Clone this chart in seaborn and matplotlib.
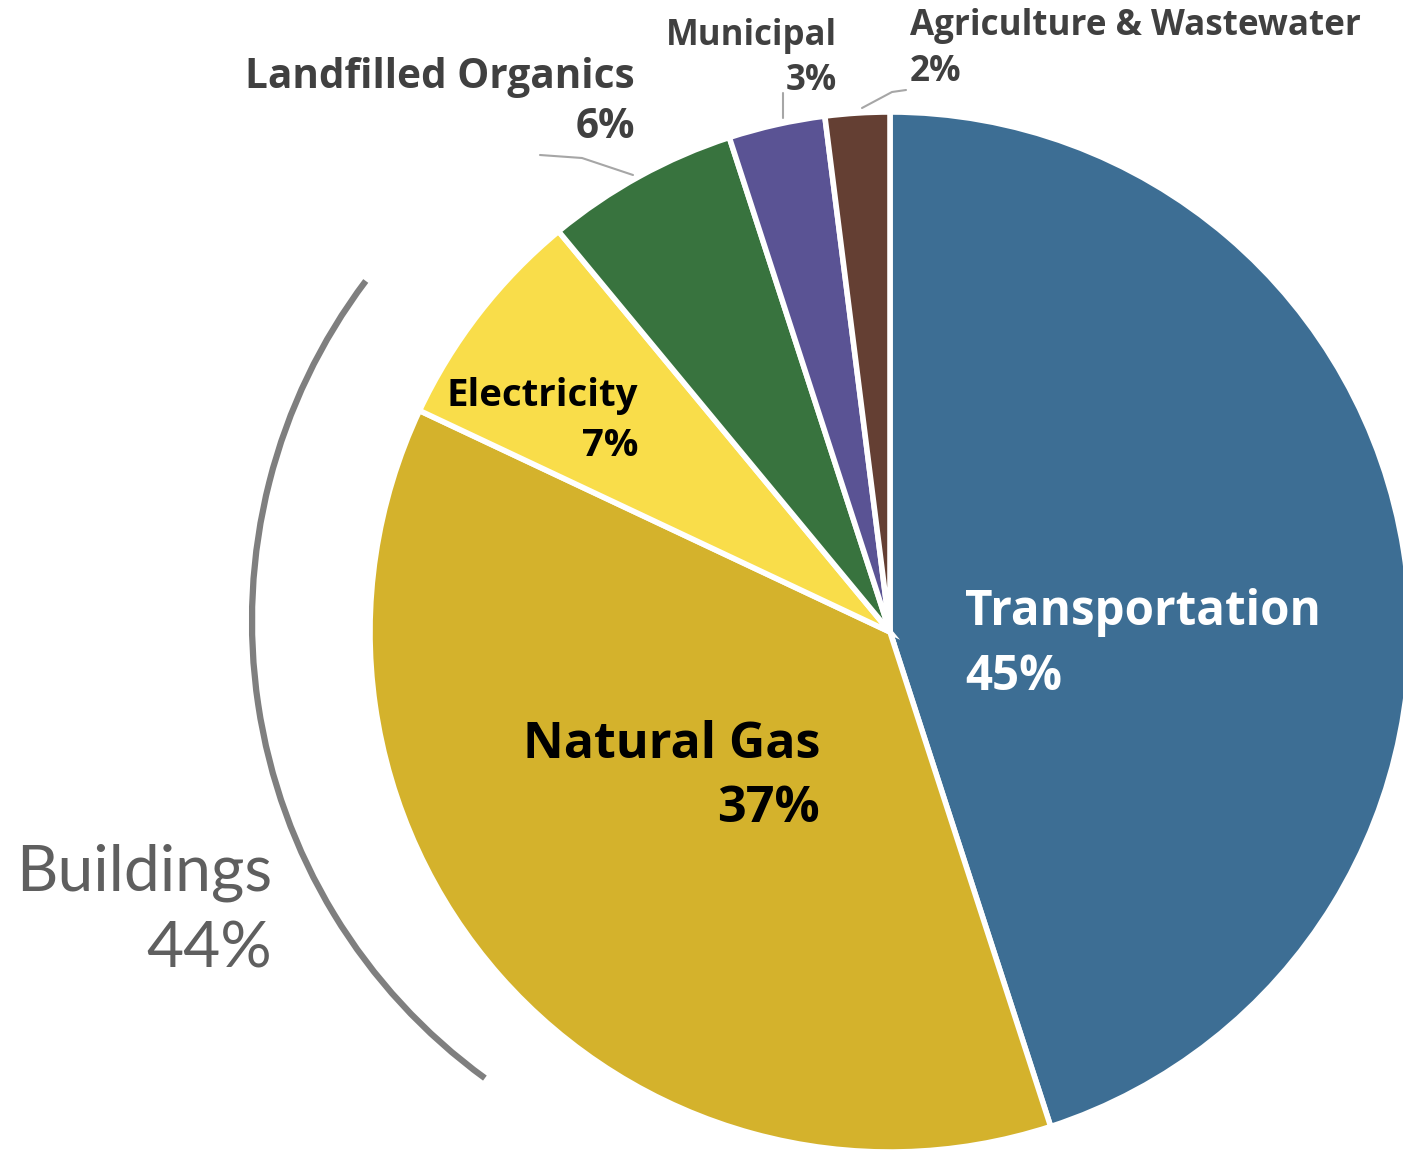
import matplotlib
matplotlib.use("Agg")
import matplotlib.pyplot as plt
import seaborn as sns
from matplotlib.patches import Arc

sns.set_theme(style="white")
plt.rcParams['font.family'] = ['Open Sans', 'DejaVu Sans']

categories = ["Transportation", "Natural Gas", "Electricity", "Landfilled Organics", "Municipal", "Agriculture & Wastewater"]
values = [45, 37, 7, 6, 3, 2]
colors = ["#3D6E94", "#D4B22C", "#F9DD4A", "#38733E", "#5A5394", "#643F33"]
group_label = "Buildings"
group_value = 44

W, H = 1403, 1162
fig = plt.figure(figsize=(W / 100, H / 100), dpi=100)
ax = fig.add_axes([0, 0, 1, 1])

def Y(y):
    return H - y

cx, cy, R = 890, 632, 520
pal = sns.color_palette(colors)
ax.pie(values, colors=pal, startangle=90, counterclock=False,
       center=(cx, Y(cy)), radius=R,
       wedgeprops=dict(edgecolor='white', linewidth=4), frame=True)
ax.set_xlim(0, W)
ax.set_ylim(0, H)
ax.set_aspect('equal')
ax.axis('off')

renderer = fig.canvas.get_renderer()

def label_pair(x, y1, y2, name, pct, color, width, ha, weight='bold', family=None):
    kw = dict(color=color, fontweight=weight, ha=ha, va='baseline', fontsize=20)
    if family:
        kw['family'] = family
    t1 = ax.text(x, Y(y1), name, **kw)
    bb = t1.get_window_extent(renderer)
    fs = 20 * width / bb.width
    t1.set_fontsize(fs)
    kw['fontsize'] = fs
    ax.text(x, Y(y2), pct, **kw)

pct = [f"{v}%" for v in values]
dark = "#404040"

label_pair(965, 625, 690, categories[0], pct[0], 'white', 355, 'left')
label_pair(820, 758, 822, categories[1], pct[1], 'black', 298, 'right')
label_pair(638, 406, 456, categories[2], pct[2], 'black', 191, 'right')
label_pair(635, 88, 138, categories[3], pct[3], dark, 390, 'right')
label_pair(837, 45, 90, categories[4], pct[4], dark, 171, 'right')
label_pair(910, 35, 81, categories[5], pct[5], dark, 450, 'left')

# Leader lines
lc = "#A6A6A6"
ax.plot([540, 582, 633], [Y(155), Y(158), Y(175)], color=lc, lw=1.5)
ax.plot([783, 783], [Y(93), Y(118)], color=lc, lw=1.5)
ax.plot([906, 892, 862], [Y(90), Y(92), Y(108)], color=lc, lw=1.5)

# Buildings bracket arc
arc = Arc((817, Y(621)), 2 * 565, 2 * 565, theta1=143, theta2=234,
          color="#7F7F7F", lw=4.5)
ax.add_patch(arc)
label_pair(272, 890, 967, group_label, f"{group_value}%", "#5F5F5F", 257, 'right',
           weight='normal', family=['Lato', 'DejaVu Sans'])

fig.savefig("out.png", dpi=100)
